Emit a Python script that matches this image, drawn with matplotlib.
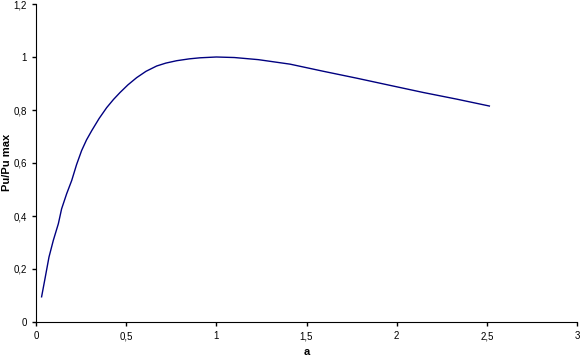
import matplotlib
matplotlib.use("Agg")
import matplotlib.pyplot as plt
from matplotlib.ticker import FuncFormatter

# values
a_vals = [0.031, 0.05, 0.072, 0.096, 0.124, 0.142, 0.17, 0.198, 0.225, 0.253,
          0.28, 0.309, 0.35, 0.392, 0.43, 0.466, 0.51, 0.558, 0.61, 0.669,
          0.72, 0.78, 0.85, 0.91, 1.0, 1.1, 1.233, 1.409, 1.594, 1.779,
          1.963, 2.148, 2.333, 2.514]
ratio_vals = [0.095, 0.164, 0.245, 0.308, 0.371, 0.427, 0.484, 0.534, 0.594, 0.647,
              0.687, 0.722, 0.768, 0.809, 0.84, 0.866, 0.895, 0.922, 0.946, 0.966,
              0.977, 0.986, 0.993, 0.997, 1.0, 0.998, 0.99, 0.973, 0.946, 0.92,
              0.893, 0.866, 0.841, 0.815]

x_ticks = [0, 0.5, 1, 1.5, 2, 2.5, 3]
y_ticks = [0, 0.2, 0.4, 0.6, 0.8, 1, 1.2]

plt.rcParams['font.family'] = ['Liberation Sans', 'DejaVu Sans']

fig = plt.figure(figsize=(5.8, 3.6), dpi=100)
ax = fig.add_axes([36 / 580, 1 - 322 / 360, (577 - 36) / 580, (322 - 4) / 360])

ax.plot(a_vals, ratio_vals, color="#000080", linewidth=1)

ax.set_xlim(0, 3)
ax.set_ylim(0, 1.2)
ax.set_xticks(x_ticks)
ax.set_yticks(y_ticks)

# decimal comma like the original
comma = FuncFormatter(lambda v, pos: ("%g" % v).replace(".", ","))
ax.xaxis.set_major_formatter(comma)
ax.yaxis.set_major_formatter(comma)

ax.spines["top"].set_visible(False)
ax.spines["right"].set_visible(False)
ax.tick_params(labelsize=7, length=3, width=1, direction="out")

# axis titles placed by hand so they stay inside the small canvas
fig.text(307 / 580, 1 - 352 / 360, "a", fontsize=8, fontweight="bold",
         ha="center", va="center")
fig.text(7 / 580, 1 - 162 / 360, "Pu/Pu max", fontsize=8, fontweight="bold",
         ha="center", va="center", rotation=90)

fig.savefig("out.png", dpi=100)
